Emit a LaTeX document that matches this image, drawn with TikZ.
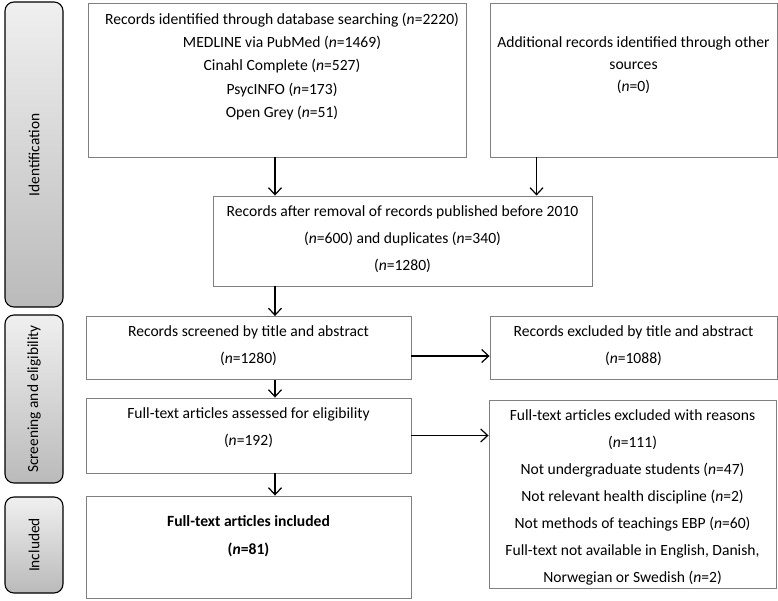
\documentclass[tikz,border=0pt]{standalone}
\usepackage{fontspec}
\setmainfont{Carlito}
\usetikzlibrary{arrows.meta}
\tikzset{
  stage/.style={draw=black,line width=1.1pt,rounded corners=9pt,top color=black!6,bottom color=black!27},
  stagetext/.style={rotate=90,font=\fontsize{15.4}{18}\selectfont,inner sep=0pt},
  box/.style={draw=black!50,line width=0.9pt,inner sep=0pt},
  txt/.style={align=center,inner sep=0pt,font=\fontsize{15.6}{27}\selectfont},
  txtb/.style={align=center,inner sep=0pt,font=\fontsize{15.6}{23.3}\selectfont},
  arr/.style={-{Straight Barb[length=7pt,width=13pt]},line width=1.2pt,black}
}
\begin{document}
\begin{tikzpicture}[x=1pt,y=-1pt]
\useasboundingbox (0,0) rectangle (778,601);
% stage bars
\draw[stage] (5,2) rectangle (63,307);
\node[stagetext] (s1) at (34,155) {Identification};
\draw[stage] (5,315) rectangle (63,483);
\node[stagetext] (s2) at (34,399) {Screening and eligibility};
\draw[stage] (5,497) rectangle (63,593);
\node[stagetext] (s3) at (34,545) {Included};
% boxes
\node[box,minimum width=378pt,minimum height=154pt] (b1) at (277,80) {};
\node[box,minimum width=287pt,minimum height=154pt] (b2) at (633.5,80) {};
\node[box,minimum width=379pt,minimum height=90pt] (b3) at (402.5,241) {};
\node[box,minimum width=325pt,minimum height=63pt] (b4) at (248.5,348) {};
\node[box,minimum width=287pt,minimum height=63pt] (b5) at (633.5,348) {};
\node[box,minimum width=325pt,minimum height=75pt] (b6) at (248.5,435.5) {};
\node[box,minimum width=287pt,minimum height=188pt] (b7) at (632.5,494) {};
\node[box,minimum width=325pt,minimum height=102pt] (b8) at (248.5,547) {};
% texts
\node[txtb] (t1) at (282,66.5) {Records identified through database searching (\textit{n}=2220)\\MEDLINE via PubMed (\textit{n}=1469)\\Cinahl Complete (\textit{n}=527)\\PsycINFO (\textit{n}=173)\\Open Grey (\textit{n}=51)};
\node[txt,font=\fontsize{15.6}{22}\selectfont] (t2) at (633.5,65) {Additional records identified through other\\sources\\(\textit{n}=0)};
\node[txt] (t3) at (402.5,239) {Records after removal of records published before 2010\\(\textit{n}=600) and duplicates (\textit{n}=340)\\(\textit{n}=1280)};
\node[txt] (t4) at (248.5,346) {Records screened by title and abstract\\(\textit{n}=1280)};
\node[txt] (t5) at (633.5,346) {Records excluded by title and abstract\\(\textit{n}=1088)};
\node[txt] (t6) at (248.5,427.5) {Full-text articles assessed for eligibility\\(\textit{n}=192)};
\node[txt] (t7) at (632.5,497.5) {Full-text articles excluded with reasons\\(\textit{n}=111)\\Not undergraduate students (\textit{n}=47)\\Not relevant health discipline (\textit{n}=2)\\Not methods of teachings EBP (\textit{n}=60)\\Full-text not available in English, Danish,\\Norwegian or Swedish (\textit{n}=2)};
\node[txt,font=\fontsize{15.6}{28}\selectfont\bfseries] (t8) at (248.5,536) {Full-text articles included\\(\textit{n}=81)};
% connectors
\coordinate (a1) at ([xshift=-2pt]b1.south);
\coordinate (a2) at ([xshift=47pt]b2.south west);
\draw[arr] (a1) -- (a1 |- b3.north);
\draw[arr] (a2) -- (a2 |- b3.north);
\coordinate (a3) at (a1 |- b3.south);
\draw[arr] (a3) -- (a3 |- b4.north);
\coordinate (a4) at (a1 |- b4.south);
\draw[arr] (a4) -- (a4 |- b6.north);
\coordinate (a5) at (a1 |- b6.south);
\draw[arr] (a5) -- (a5 |- b8.north);
\coordinate (h1) at ([yshift=-8pt]b4.east);
\draw[arr] (h1) -- (h1 -| b5.west);
\draw[arr] (b6.east) -- (b6.east -| b7.west);
\end{tikzpicture}
\end{document}
